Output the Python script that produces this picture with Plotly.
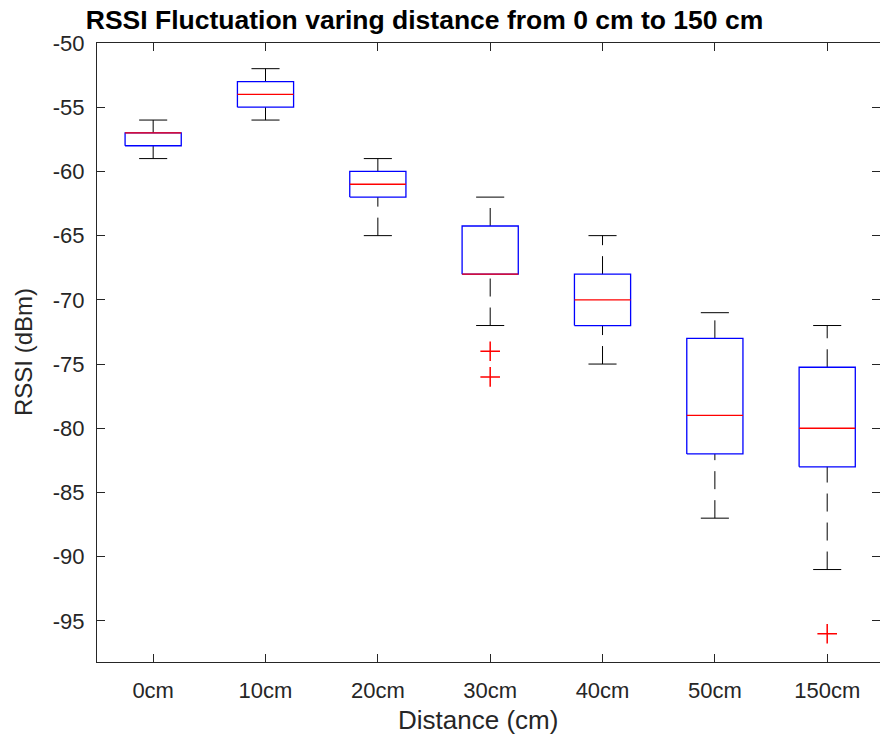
import plotly.graph_objects as go

# ---- data ----
categories = ["0cm", "10cm", "20cm", "30cm", "40cm", "50cm", "150cm"]
q1 = [-58, -55, -62, -68, -72, -82, -83]
median = [-57, -54, -61, -68, -70, -79, -80]
q3 = [-57, -53, -60, -64.25, -68, -73, -75.25]
lower_whisker = [-59, -56, -65, -72, -75, -87, -91]
upper_whisker = [-56, -52, -59, -62, -65, -71, -72]
outlier_cat = ["30cm", "30cm", "150cm"]
outlier_val = [-74, -76, -96]
y_ticks = [-95, -90, -85, -80, -75, -70, -65, -60, -55, -50]
y_ticktext = [str(v) for v in y_ticks]  # plain hyphen-minus like the reference

BOX_HALF = 0.25
CAP_HALF = 0.125
AXIS_COLOR = "#262626"
FONT = "Liberation Sans, Arial, Helvetica, sans-serif"

W, H = 880, 740
ML, MR, MT, MB = 97, 0, 43, 78
PW, PH = W - ML - MR, H - MT - MB

fig = go.Figure()
pos = {c: i + 1 for i, c in enumerate(categories)}

for i, c in enumerate(categories):
    x = pos[c]
    # whiskers (dashed, drawn bottom-to-top)
    for y0, y1 in ((lower_whisker[i], q1[i]), (q3[i], upper_whisker[i])):
        fig.add_trace(go.Scatter(
            x=[x, x], y=[y0, y1], mode="lines",
            line=dict(color="black", width=1, dash="18px,11px"),
            hoverinfo="skip", showlegend=False))
    # caps
    for yc in (lower_whisker[i], upper_whisker[i]):
        fig.add_trace(go.Scatter(
            x=[x - CAP_HALF, x + CAP_HALF], y=[yc, yc], mode="lines",
            line=dict(color="black", width=1),
            hoverinfo="skip", showlegend=False))
    # box
    fig.add_trace(go.Scatter(
        x=[x - BOX_HALF, x + BOX_HALF, x + BOX_HALF, x - BOX_HALF, x - BOX_HALF],
        y=[q1[i], q1[i], q3[i], q3[i], q1[i]], mode="lines",
        line=dict(color="#0000ff", width=1.3),
        hoverinfo="skip", showlegend=False))
    # median
    fig.add_trace(go.Scatter(
        x=[x - BOX_HALF, x + BOX_HALF], y=[median[i], median[i]], mode="lines",
        line=dict(color="#ff0000", width=1.3),
        hoverinfo="skip", showlegend=False))

# outliers
fig.add_trace(go.Scatter(
    x=[pos[c] for c in outlier_cat], y=outlier_val, mode="markers",
    marker=dict(symbol="cross-thin", size=14, line=dict(color="#ff0000", width=1.5)),
    hoverinfo="skip", showlegend=False))

yrange = [-98.2, -50]

fig.update_layout(
    width=W, height=H,
    margin=dict(l=ML, r=MR, t=MT, b=MB),
    plot_bgcolor="white", paper_bgcolor="white",
    font=dict(family=FONT, color=AXIS_COLOR, size=22),
    title=dict(text="<b>RSSI Fluctuation varing distance from 0 cm to 150 cm</b>",
               x=(424.5 - ML) / PW, xref="paper", xanchor="center",
               y=1 - 20 / H, yref="container", yanchor="middle",
               font=dict(size=26.5, color="black", family=FONT)),
    xaxis=dict(range=[0.5, 7.47], tickmode="array", tickvals=list(range(1, 8)),
               ticktext=categories, ticks="inside", ticklen=8, tickcolor=AXIS_COLOR,
               showline=True, linecolor=AXIS_COLOR, linewidth=1, mirror="ticks",
               showgrid=False, zeroline=False, ticklabelstandoff=9,
               tickfont=dict(size=22, color=AXIS_COLOR)),
    yaxis=dict(range=yrange, tickmode="array", tickvals=y_ticks, ticktext=y_ticktext,
               ticks="inside", ticklen=8, tickcolor=AXIS_COLOR,
               showline=True, linecolor=AXIS_COLOR, linewidth=1, mirror=False,
               showgrid=False, zeroline=False, ticklabelstandoff=7,
               tickfont=dict(size=22, color=AXIS_COLOR)),
    yaxis2=dict(range=yrange, overlaying="y", side="right", tickmode="array",
                tickvals=y_ticks, ticks="inside", ticklen=8, tickcolor=AXIS_COLOR,
                showticklabels=False, showline=False, linewidth=0,
                linecolor="rgba(0,0,0,0)", showgrid=False, zeroline=False),
    annotations=[
        dict(text="Distance (cm)", xref="paper", yref="paper",
             x=(478 - ML) / PW, y=-(720 - (MT + PH)) / PH,
             xanchor="center", yanchor="middle", showarrow=False,
             font=dict(size=26, color=AXIS_COLOR, family=FONT)),
        dict(text="RSSI (dBm)", xref="paper", yref="paper",
             x=(23 - ML) / PW, y=1 - (352 - MT) / PH, textangle=-90,
             xanchor="center", yanchor="middle", showarrow=False,
             font=dict(size=24, color=AXIS_COLOR, family=FONT)),
    ],
)

# invisible trace to anchor the right-hand tick axis
fig.add_trace(go.Scatter(x=[1], y=[-50], yaxis="y2", mode="markers",
                         marker=dict(opacity=0), hoverinfo="skip", showlegend=False))

fig.write_html("out.html")
